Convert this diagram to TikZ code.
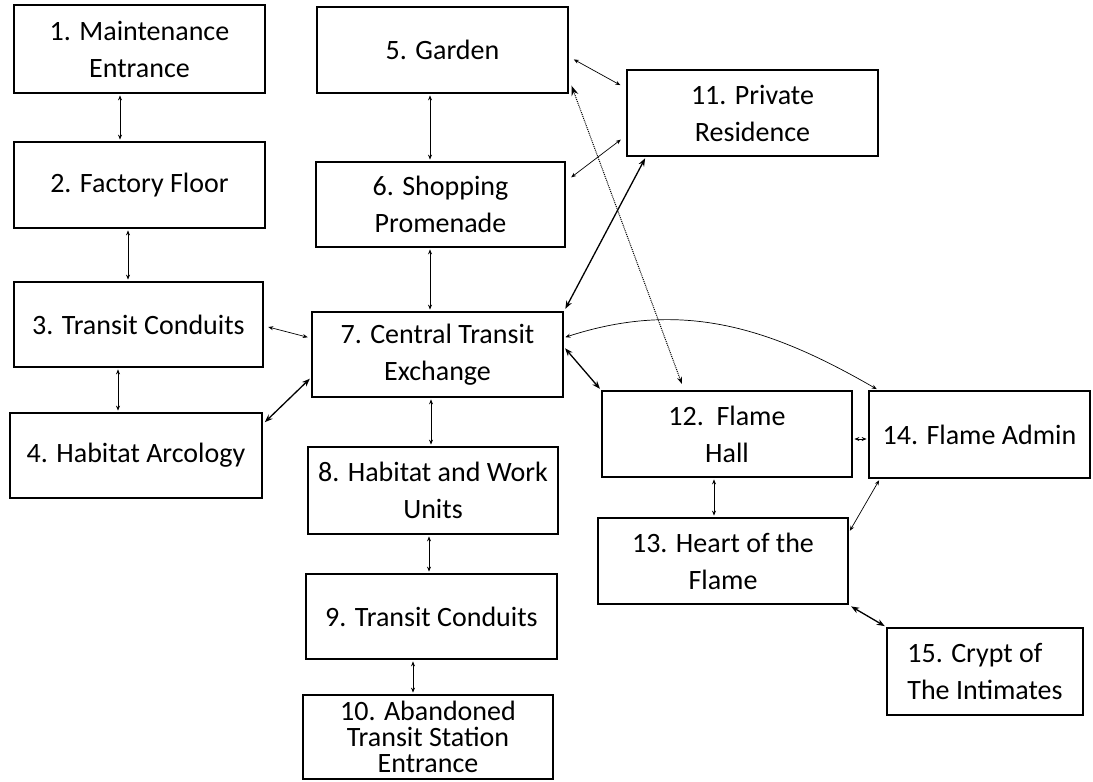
\documentclass[tikz,border=0pt]{standalone}
\usepackage{fontspec}
\setmainfont{Carlito}
\usetikzlibrary{arrows.meta}

\tikzset{
    room/.style={draw, rectangle, line width=2.8pt, inner sep=0pt, align=center,
        font=\fontsize{28}{37}\selectfont},
    conn/.style={{Stealth[length=5pt,width=4pt]}-{Stealth[length=5pt,width=4pt]},
        line width=0.7pt, shorten <=1pt, shorten >=1pt},
    connthick/.style={{Stealth[length=8pt,width=6pt]}-{Stealth[length=8pt,width=6pt]},
        line width=1.3pt, shorten <=1pt, shorten >=1pt},
    conndot/.style={{Stealth[length=10pt,width=7pt]}-{Stealth[length=7pt,width=5pt]},
        line width=1pt, densely dotted}
}

\begin{document}
\begin{tikzpicture}[x=1pt, y=1pt]
            \useasboundingbox (0,0) rectangle (1093,-782);

            % Left column
            \node[room, minimum width=251pt, minimum height=88pt] (b1) at (139.5,-49) {1. Maintenance\\Entrance};
            \node[room, minimum width=251pt, minimum height=86pt] (b2) at (139.5,-185) {2. Factory Floor};
            \node[room, minimum width=249pt, minimum height=85pt] (b3) at (138.5,-324.5) {3. Transit Conduits};
            \node[room, minimum width=252pt, minimum height=85pt] (b4) at (136,-455.5) {4. Habitat Arcology};

            % Middle column
            \node[room, minimum width=251pt, minimum height=86pt] (b5) at (442.5,-50) {5. Garden};
            \node[room, minimum width=249pt, minimum height=85pt] (b6) at (440.5,-204.5) {6. Shopping\\Promenade};
            \node[room, minimum width=251pt, minimum height=85pt] (b7) at (437.5,-354.5) {7. Central Transit\\Exchange};
            \node[room, minimum width=250pt, minimum height=87pt] (b8) at (433,-490.5) {8. Habitat and Work\\Units};
            \node[room, minimum width=251pt, minimum height=85pt] (b9) at (431.5,-616.5) {9. Transit Conduits};
            \node[room, minimum width=250pt, minimum height=84pt, font=\fontsize{28}{26}\selectfont] (b10) at (428,-737) {10. Abandoned\\Transit Station\\Entrance};

            % Right side
            \node[room, minimum width=251pt, minimum height=86pt] (b11) at (752.5,-113) {11. Private\\Residence};
            \node[room, minimum width=250pt, minimum height=86pt] (b12) at (727,-434) {12.\ \ Flame\\Hall};
            \node[room, minimum width=250pt, minimum height=86pt] (b13) at (723,-561) {13. Heart of the\\Flame};
            \node[room, minimum width=221pt, minimum height=87pt] (b14) at (979.5,-434.5) {14. Flame Admin};
            \node[room, minimum width=196pt, minimum height=87pt, align=left] (b15) at (985,-671.5) {15. Crypt of\\The Intimates};

            % Vertical links
            \draw[conn] ([xshift=-19.5pt]b1.south) -- ([xshift=-19.5pt]b2.north);
            \draw[conn] ([xshift=-11.5pt]b2.south) -- ([xshift=-10.5pt]b3.north);
            \draw[conn] ([xshift=-20.5pt]b3.south) -- ([xshift=-18pt]b4.north);
            \draw[conn] ([xshift=-12.5pt]b5.south) -- ([xshift=-10.5pt]b6.north);
            \draw[conn] ([xshift=-10.5pt]b6.south) -- ([xshift=-7.5pt]b7.north);
            \draw[conn] ([xshift=-6.5pt]b7.south) -- ([xshift=-2pt]b8.north);
            \draw[conn] ([xshift=-4pt]b8.south) -- ([xshift=-2.5pt]b9.north);
            \draw[conn] ([xshift=-18.5pt]b9.south) -- ([xshift=-15pt]b10.north);
            \draw[conn] ([xshift=-13pt]b12.south) -- ([xshift=-9pt]b13.north);

            % Links to the central exchange
            \draw[conn, shorten <=4pt, shorten >=3pt] ([yshift=-1.5pt]b3.east) -- ([yshift=16.5pt]b7.west);
            \draw[connthick, shorten <=2pt] ([yshift=-12pt]b4.north east) -- ([yshift=-23.5pt]b7.west);
            \draw[connthick] ([yshift=7pt]b7.east) -- (b12.north west);
            \draw[connthick, shorten <=2pt] (b7.north east) -- ([xshift=20pt]b11.south west);
            \draw[conn] ([yshift=17pt]b7.east) to[out=18, in=150] ([xshift=10pt]b14.north west);

            % Residence and flame links
            \draw[conn, shorten <=5pt, shorten >=6pt] ([yshift=-7pt]b5.east) -- ([yshift=25pt]b11.west);
            \draw[conn, shorten <=6pt, shorten >=6pt] ([yshift=23.5pt]b6.east) -- ([yshift=-23pt]b11.west);
            \draw[conndot, shorten <=6pt, shorten >=6pt] ([yshift=-30pt]b5.east) -- ([xshift=-43pt]b12.north);
            \draw[conn] ([yshift=-5pt]b12.east) -- ([yshift=-4.5pt]b14.west);
            \draw[conn] ([yshift=-15pt]b13.north east) -- ([xshift=12pt]b14.south west);
            \draw[connthick, shorten <=2pt] (b13.south east) -- (b15.north west);
\end{tikzpicture}
\end{document}
